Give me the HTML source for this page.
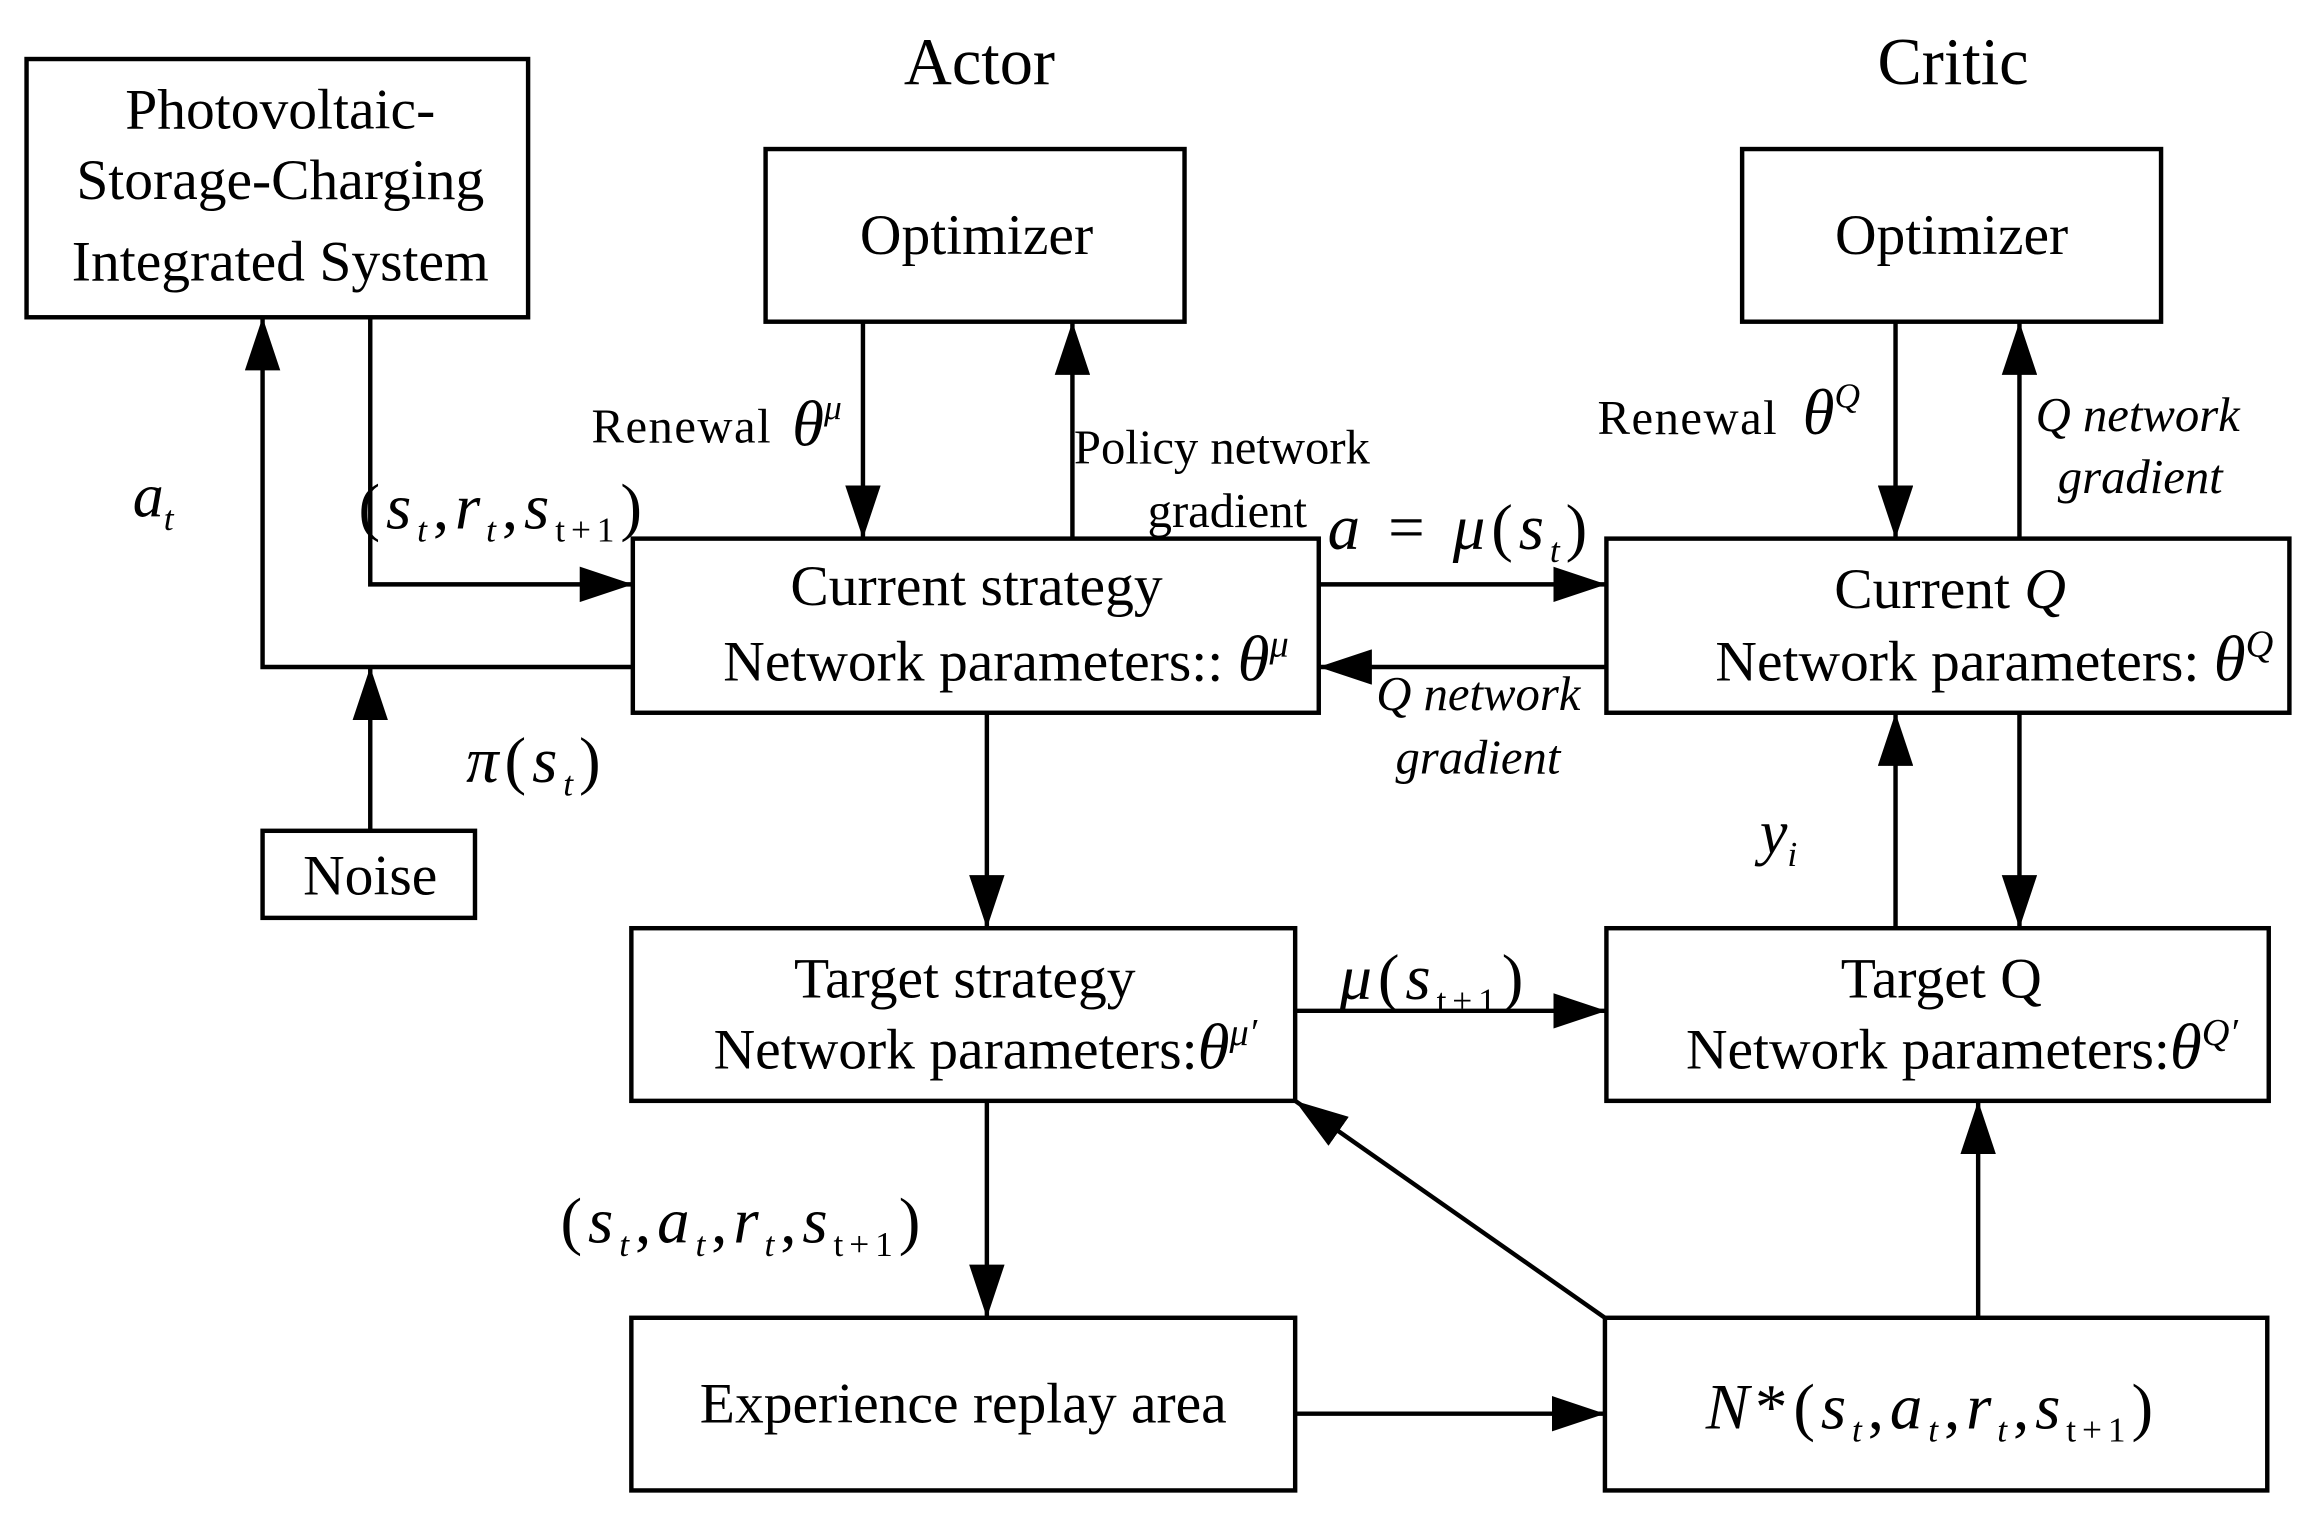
<!DOCTYPE html>
<html><head><meta charset="utf-8"><style>
html,body{margin:0;padding:0;background:#fff}
svg{display:block}
text{font-family:"Liberation Serif",serif;fill:#000}
.i{font-style:italic}
.m{letter-spacing:4px}
</style></head><body>
<svg width="2313" height="1517" viewBox="0 0 1568 1028" preserveAspectRatio="none" xmlns="http://www.w3.org/2000/svg">
<defs><marker id="b" markerWidth="36" markerHeight="24" refX="36" refY="12" orient="auto" markerUnits="userSpaceOnUse"><path d="M0,0 L36,12 L0,24z"/></marker></defs>
<g fill="none" stroke="#000" stroke-width="3">
<rect x="18" y="40" width="340" height="175"/>
<rect x="519" y="101" width="284" height="117"/>
<rect x="1181" y="101" width="284" height="117"/>
<rect x="429" y="365" width="465" height="118"/>
<rect x="1089" y="365" width="463" height="118"/>
<rect x="178" y="563" width="144" height="59"/>
<rect x="428" y="629" width="450" height="117"/>
<rect x="1089" y="629" width="449" height="117"/>
<rect x="428" y="893" width="450" height="117"/>
<rect x="1088" y="893" width="449" height="117"/>
</g>
<g fill="none" stroke="#000" stroke-width="3" marker-end="url(#b)">
<path d="M251,215 V396 H429"/>
<path d="M429,452 H178 V215"/>
<path d="M251,563 V452"/>
<path d="M585,218 V365"/>
<path d="M727,365 V218"/>
<path d="M1285,218 V365"/>
<path d="M1369,365 V218"/>
<path d="M894,396 H1089"/>
<path d="M1089,452 H894"/>
<path d="M669,483 V629"/>
<path d="M1285,629 V483"/>
<path d="M1369,483 V629"/>
<path d="M878,685 H1089"/>
<path d="M669,746 V893"/>
<path d="M878,958 H1088"/>
<path d="M1341,893 V746"/>
<path d="M1088,893 L878,746"/>
</g>
<g font-size="39" text-anchor="middle">
<text x="664" y="57" font-size="45">Actor</text>
<text x="1324" y="57" font-size="45">Critic</text>
<text x="190" y="87">Photovoltaic-</text>
<text x="190" y="135">Storage-Charging</text>
<text x="190" y="190">Integrated System</text>
<text x="662" y="172">Optimizer</text>
<text x="1323" y="172">Optimizer</text>
<text x="662" y="410">Current strategy</text>
<text x="682" y="461">Network parameters:: <tspan class="i" font-size="44">θ</tspan><tspan class="i" font-size="26" dy="-16">μ</tspan></text>
<text x="1322" y="412">Current <tspan class="i">Q</tspan></text>
<text x="1352" y="461">Network parameters: <tspan class="i" font-size="44">θ</tspan><tspan class="i" font-size="26" dy="-16">Q</tspan></text>
<text x="251" y="606">Noise</text>
<text x="654" y="676">Target strategy</text>
<text x="668" y="724">Network parameters:<tspan class="i" font-size="44">θ</tspan><tspan class="i" font-size="26" dy="-16">μ′</tspan></text>
<text x="1316" y="676">Target Q</text>
<text x="1330" y="724">Network parameters:<tspan class="i" font-size="44">θ</tspan><tspan class="i" font-size="26" dy="-16">Q′</tspan></text>
<text x="653" y="964">Experience replay area</text>
<text x="1310" y="968" font-size="44" class="m"><tspan class="i">N</tspan>*(<tspan class="i">s</tspan><tspan class="i" font-size="24" dy="9">t</tspan><tspan dy="-9">,</tspan><tspan class="i">a</tspan><tspan class="i" font-size="24" dy="9">t</tspan><tspan dy="-9">,</tspan><tspan class="i">r</tspan><tspan class="i" font-size="24" dy="9">t</tspan><tspan dy="-9">,</tspan><tspan class="i">s</tspan><tspan font-size="24" dy="9">t+1</tspan><tspan dy="-9">)</tspan></text>
</g>
<g font-size="33">
<text x="401" y="300" letter-spacing="1">Renewal</text>
<text x="537" y="302" class="i" font-size="44">θ<tspan font-size="24" dy="-18">μ</tspan></text>
<text x="728" y="314">Policy network</text>
<text x="778" y="357">gradient</text>
<text x="1083" y="294" letter-spacing="1">Renewal</text>
<text x="1222" y="294" class="i" font-size="44">θ<tspan font-size="24" dy="-18">Q</tspan></text>
<text x="1380" y="292" class="i">Q network</text>
<text x="1395" y="334" class="i">gradient</text>
<text x="933" y="481" class="i">Q network</text>
<text x="946" y="524" class="i">gradient</text>
<text x="90" y="350" class="i" font-size="42">a<tspan font-size="24" dy="9">t</tspan></text>
<text x="243" y="358" font-size="44" class="m">(<tspan class="i">s</tspan><tspan class="i" font-size="24" dy="9">t</tspan><tspan dy="-9">,</tspan><tspan class="i">r</tspan><tspan class="i" font-size="24" dy="9">t</tspan><tspan dy="-9">,</tspan><tspan class="i">s</tspan><tspan font-size="24" dy="9">t+1</tspan><tspan dy="-9">)</tspan></text>
<text x="900" y="372" font-size="44" class="m"><tspan class="i">a</tspan> = <tspan class="i">μ</tspan>(<tspan class="i">s</tspan><tspan class="i" font-size="24" dy="9">t</tspan><tspan dy="-9">)</tspan></text>
<text x="316" y="530" font-size="44" class="m"><tspan class="i">π</tspan>(<tspan class="i">s</tspan><tspan class="i" font-size="24" dy="9">t</tspan><tspan dy="-9">)</tspan></text>
<text x="1193" y="578" class="i" font-size="42">y<tspan font-size="24" dy="9">i</tspan></text>
<text x="908" y="677" font-size="44" class="m"><tspan class="i">μ</tspan>(<tspan class="i">s</tspan><tspan font-size="24" dy="9">t+1</tspan><tspan dy="-9">)</tspan></text>
<text x="380" y="842" font-size="44" class="m">(<tspan class="i">s</tspan><tspan class="i" font-size="24" dy="9">t</tspan><tspan dy="-9">,</tspan><tspan class="i">a</tspan><tspan class="i" font-size="24" dy="9">t</tspan><tspan dy="-9">,</tspan><tspan class="i">r</tspan><tspan class="i" font-size="24" dy="9">t</tspan><tspan dy="-9">,</tspan><tspan class="i">s</tspan><tspan font-size="24" dy="9">t+1</tspan><tspan dy="-9">)</tspan></text>
</g>
</svg>
</body></html>
